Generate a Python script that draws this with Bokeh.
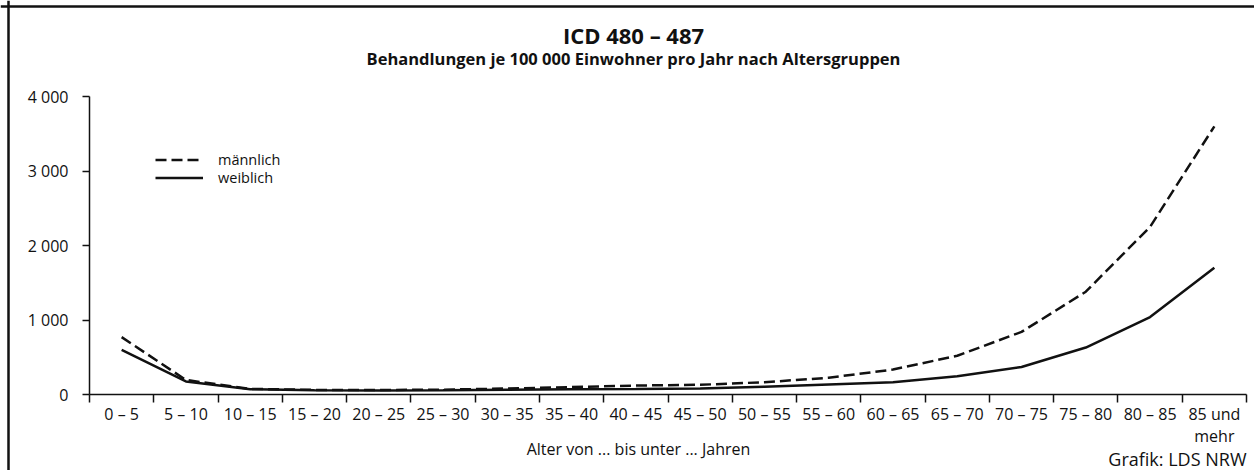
from bokeh.plotting import figure
from bokeh.models import Range1d, FixedTicker, Label, Legend, LegendItem, Span
from bokeh.embed import file_html
from bokeh.resources import INLINE

# ---- data ----
categories = ["0 – 5", "5 – 10", "10 – 15", "15 – 20", "20 – 25", "25 – 30",
              "30 – 35", "35 – 40", "40 – 45", "45 – 50", "50 – 55", "55 – 60",
              "60 – 65", "65 – 70", "70 – 75", "75 – 80", "80 – 85", "85 und\nmehr"]
maennlich = [770, 195, 75, 62, 60, 65, 80, 100, 120, 130, 165, 225, 335, 520, 840, 1380, 2250, 3600]
weiblich = [600, 175, 70, 58, 55, 58, 65, 70, 75, 82, 105, 135, 165, 245, 370, 630, 1040, 1700]
y_ticks = [0, 1000, 2000, 3000, 4000]
y_tick_labels = ["0", "1 000", "2 000", "3 000", "4 000"]
title = "ICD 480 – 487"
subtitle = "Behandlungen je 100 000 Einwohner pro Jahr nach Altersgruppen"
x_title = "Alter von ... bis unter ... Jahren"
source_note = "Grafik: LDS NRW"
legend_labels = ["männlich", "weiblich"]

FONT = "Open Sans"
INK = "#111111"

n = len(categories)
centers = [i + 0.5 for i in range(n)]
bounds = [float(i) for i in range(n + 1)]
y_min, y_max = y_ticks[0], y_ticks[-1]

# ---- layout (canvas pixels) ----
W, H = 1254, 470
BL, BT = 8, 6              # outer box: left / top edge
AX_L, AX_R = 89, 1246      # x extent of the axis
AX_T, AX_B = 96, 394       # y of top tick / zero line

sx_per = (AX_R - AX_L) / n
sy_per = (AX_B - AX_T) / (y_max - y_min)
x_range = Range1d(-AX_L / sx_per, n + (W - AX_R) / sx_per)
y_range = Range1d(y_min - (H - AX_B) / sy_per, y_max + AX_T / sy_per)

p = figure(width=W, height=H, output_backend="svg", toolbar_location=None,
           x_range=x_range, y_range=y_range,
           min_border_left=0, min_border_right=0,
           min_border_top=0, min_border_bottom=0, tools="")
p.outline_line_color = None
p.xgrid.visible = False
p.ygrid.visible = False
p.background_fill_color = "white"
p.border_fill_color = "white"

# outer box: only its top and left edges lie inside the picture
p.add_layout(Span(location=-(AX_L - BL) / sx_per, dimension="height",
                  line_color=INK, line_width=2.5))
p.add_layout(Span(location=y_max + (AX_T - BT) / sy_per, dimension="width",
                  line_color=INK, line_width=2.5))

# x axis
xa = p.xaxis[0]
xa.fixed_location = y_min
xa.bounds = (0, n)
xa.ticker = FixedTicker(ticks=centers, minor_ticks=bounds)
xa.major_label_overrides = {c: lab for c, lab in zip(centers, categories)}
xa.major_tick_out = 0
xa.major_tick_in = 0
xa.minor_tick_out = 8
xa.minor_tick_in = 0
xa.minor_tick_line_color = INK
xa.minor_tick_line_width = 1.5
xa.axis_line_color = INK
xa.axis_line_width = 1.5
xa.major_label_standoff = 0
xa.major_label_text_font = FONT
xa.major_label_text_font_size = "16px"
xa.major_label_text_line_height = 1.0
xa.major_label_text_color = INK

# y axis
ya = p.yaxis[0]
ya.fixed_location = 0
ya.bounds = (y_min, y_max)
ya.ticker = FixedTicker(ticks=y_ticks, minor_ticks=[])
ya.major_label_overrides = {t: lab for t, lab in zip(y_ticks, y_tick_labels)}
ya.major_tick_out = 7
ya.major_tick_in = 0
ya.major_tick_line_color = INK
ya.major_tick_line_width = 1.5
ya.axis_line_color = INK
ya.axis_line_width = 1.5
ya.major_label_standoff = 14
ya.major_label_text_font = FONT
ya.major_label_text_font_size = "16px"
ya.major_label_text_color = INK

r_m = p.line(centers, maennlich, line_color=INK, line_width=2.5, line_dash="11 5")
r_w = p.line(centers, weiblich, line_color=INK, line_width=2.5)

# one legend per entry so the two rows sit close together as in the original
for lab, rend, bottom in [(legend_labels[0], r_m, 169), (legend_labels[1], r_w, 187)]:
    lg = Legend(items=[LegendItem(label=lab, renderers=[rend])],
                location=(155, H - bottom), orientation="vertical",
                glyph_width=48, glyph_height=17, label_height=17,
                label_standoff=15, spacing=0, padding=0, margin=0,
                border_line_color=None, background_fill_alpha=0,
                label_text_font=FONT, label_text_font_size="14.5px",
                label_text_line_height=1.0,
                label_text_color=INK)
    p.add_layout(lg, "center")


def add_text(txt, cx, cy, size, bold=False, align="center"):
    p.add_layout(Label(x=cx, y=H - cy, x_units="screen", y_units="screen",
                       text=txt, text_font=FONT, text_font_size=size,
                       text_font_style="bold" if bold else "normal",
                       text_color=INK, text_align=align,
                       text_baseline="middle"))


add_text(title, 633, 34, "22px", bold=True)
add_text(subtitle, 633, 58, "16.5px", bold=True)
add_text(x_title, 638, 448, "16px")
add_text(source_note, 1246, 458, "18px", align="right")

open("out.html", "w").write(file_html(p, INLINE))
